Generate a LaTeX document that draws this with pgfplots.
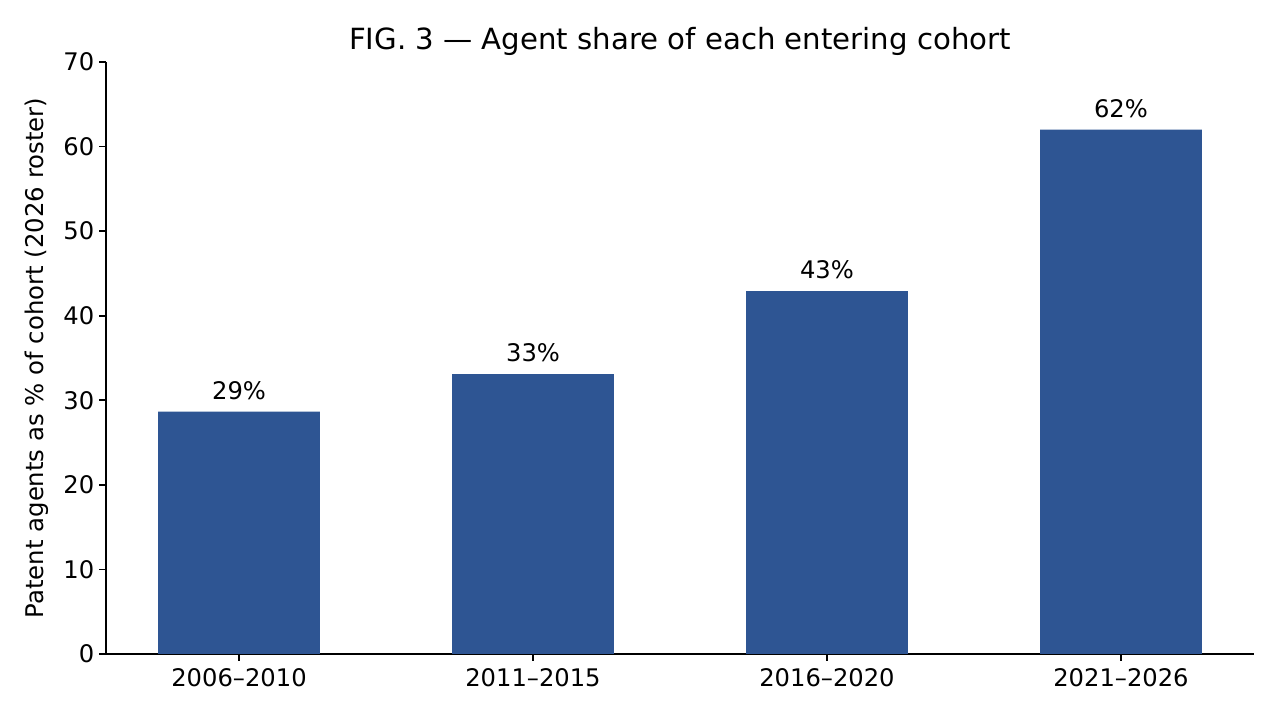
\documentclass[border=0pt]{standalone}
\usepackage{fontspec}
\setmainfont{DejaVu Sans}
\usepackage{pgfplots}
\pgfplotsset{compat=1.18}
\definecolor{barblue}{HTML}{2E5593}
\begin{document}
\begin{tikzpicture}
\path[use as bounding box] (-76.32bp,-47.52bp) rectangle (845.28bp,470.88bp);
\begin{axis}[
  at={(0,0)}, anchor=south west, scale only axis,
  width=826.56bp, height=426.24bp,
  xmin=-0.4525, xmax=3.4525, ymin=0, ymax=70,
  axis lines*=left,
  axis line style={line width=1.3bp, -},
  ybar, bar width=0.55, bar shift=0pt,
  xtick={0,1,2,3},
  xticklabels={2006–2010,2011–2015,2016–2020,2021–2026},
  ytick={0,10,...,70},
  tick align=outside,
  major tick length=5bp,
  tick style={line width=1.2bp, black},
  /pgf/number format/assume math mode=true,
  ticklabel style={font=\fontsize{17.5}{20}\selectfont},
  xticklabel style={yshift=-2bp},
  ylabel={Patent agents as \% of cohort (2026 roster)},
  every axis y label/.style={at={(axis description cs:-0.0601,0.5)}, rotate=90, anchor=center, font=\fontsize{17.6}{20}\selectfont},
  title={FIG. 3 — Agent share of each entering cohort},
  every axis title/.style={at={(axis description cs:0.5,1)}, anchor=base, yshift=9bp, font=\fontsize{21.1}{24}\selectfont},
  point meta=explicit symbolic,
  nodes near coords,
  every node near coord/.append style={anchor=base, inner sep=0pt, yshift=9bp, font=\fontsize{17.5}{20}\selectfont, black},
]
\addplot[fill=barblue, draw=none] coordinates {
  (0,28.65) [29\%]
  (1,33.1) [33\%]
  (2,42.9) [43\%]
  (3,62.0) [62\%]
};
\end{axis}
\end{tikzpicture}
\end{document}
